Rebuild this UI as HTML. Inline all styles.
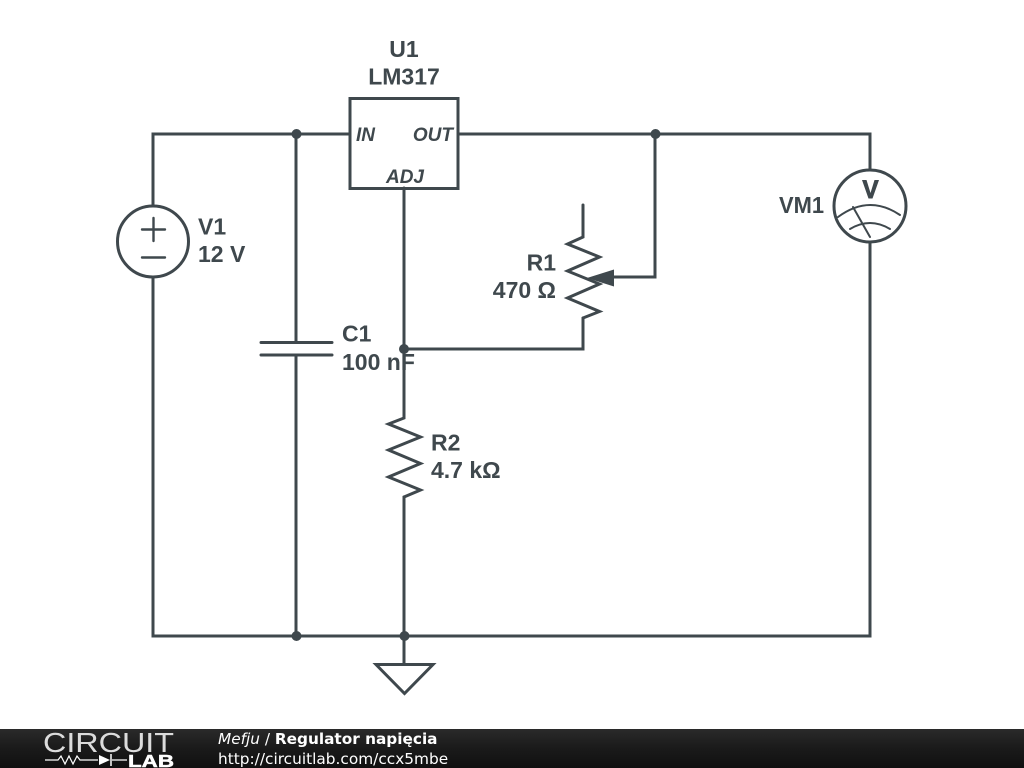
<!DOCTYPE html>
<html>
<head>
<meta charset="utf-8">
<style>
html,body{margin:0;padding:0;background:#fff;width:1024px;height:768px;overflow:hidden}
svg{display:block}
.w{fill:none;stroke:#3f484d;stroke-width:3;stroke-linejoin:miter;stroke-linecap:round}
.t{font-family:"Liberation Sans",Arial,sans-serif;font-weight:bold;font-size:23px;fill:#3f484d}
.p{font-family:"Liberation Sans",Arial,sans-serif;font-weight:bold;font-style:italic;font-size:19px;fill:#3f484d}
.f{font-family:"DejaVu Sans",sans-serif;fill:#fff;font-size:15.300px}
</style>
</head>
<body>
<svg width="1024" height="768" viewBox="0 0 1024 768" xmlns="http://www.w3.org/2000/svg">
<defs>
<linearGradient id="bar" x1="0" y1="0" x2="0" y2="1">
<stop offset="0" stop-color="#2a2a2a"/>
<stop offset="0.500" stop-color="#1a1a1a"/>
<stop offset="1" stop-color="#101010"/>
</linearGradient>
</defs>
<rect width="1024" height="768" fill="#fff"/>
<!-- main wires -->
<path class="w" d="M153 205V134H350M459 134H870V169M870 243V636H153V278"/>
<path class="w" d="M296 134V342M296 355V636"/>
<path class="w" d="M404 188V415M404 497V664"/>
<path class="w" d="M404 349H583V318"/>
<path class="w" d="M655 134V277H612"/>
<!-- U1 -->
<rect class="w" x="350" y="98.500" width="108" height="90"/>
<!-- V1 -->
<circle class="w" cx="153" cy="241.500" r="35.500"/>
<g fill="none" stroke="#3f484d" stroke-width="2.400" stroke-linecap="round">
<path d="M142 229.500H165M153.500 218V241M142 257.500H165"/>
</g>
<!-- C1 -->
<path class="w" d="M261 342.500H332M261 355H332"/>
<!-- R2 -->
<path class="w" d="M404 415V418L388.500 424L420.500 437L388.500 450L420.500 463.500L388.500 477L420.500 490L404 497V500"/>
<!-- R1 -->
<path class="w" d="M583 205V237L567.500 244L599.500 257L567.500 271L599.500 284L567.500 298L599.500 311.500L583 318"/>
<path d="M587 278L614 269.500V286.500Z" fill="#3f484d"/>
<!-- VM1 -->
<circle class="w" cx="870" cy="206" r="36"/>
<g fill="none" stroke="#3f484d" stroke-width="2" stroke-linecap="round">
<path d="M838 217Q869 194 900 215M850 229Q870 217 890 229M853 207L870 237"/>
</g>
<path d="M862 180H866.500L870.500 193L874.500 180H879L872.500 198.500H868.500Z" fill="#3f484d"/>
<!-- ground -->
<path class="w" d="M376 664.500H433L404.500 693.500Z"/>
<!-- junctions -->
<g fill="#3f484d">
<circle cx="296.500" cy="134" r="5"/>
<circle cx="655.500" cy="134" r="5"/>
<circle cx="404" cy="349" r="5"/>
<circle cx="296.500" cy="636" r="5"/>
<circle cx="404.500" cy="636" r="5"/>
</g>
<!-- labels -->
<text class="t" x="404" y="57" text-anchor="middle">U1</text>
<text class="t" x="404" y="84.500" text-anchor="middle">LM317</text>
<text class="p" x="356" y="141">IN</text>
<text class="p" x="453" y="141" text-anchor="end">OUT</text>
<text class="p" x="405" y="183" text-anchor="middle">ADJ</text>
<text class="t" x="198" y="234.500">V1</text>
<text class="t" x="198" y="262">12 V</text>
<text class="t" x="342" y="341.500">C1</text>
<text class="t" x="342" y="370">100 nF</text>
<text class="t" x="431" y="450.500">R2</text>
<text class="t" x="431" y="478">4.7 kΩ</text>
<text class="t" x="556" y="270.500" text-anchor="end">R1</text>
<text class="t" x="556" y="298" text-anchor="end">470 Ω</text>
<text class="t" x="824" y="213" text-anchor="end" textLength="45" lengthAdjust="spacingAndGlyphs">VM1</text>
<!-- footer -->
<rect x="0" y="729" width="1024" height="39" fill="url(#bar)"/>
<text x="43" y="752" font-family="'Liberation Sans',sans-serif" font-size="28" fill="#dcdcdc" textLength="131" lengthAdjust="spacingAndGlyphs">CIRCUIT</text>
<path d="M45 760H58L61 756L65 764L69 756L73 764L77 756L80 760H98M112 760H127" fill="none" stroke="#fff" stroke-width="1.200"/>
<path d="M99 755L110 760L99 765Z" fill="#fff"/>
<path d="M111 754V766" stroke="#fff" stroke-width="1.500"/>
<text x="128" y="767" font-family="'Liberation Sans',sans-serif" font-weight="bold" font-size="17.500" fill="#fff" stroke="#fff" stroke-width="0.500" textLength="46" lengthAdjust="spacingAndGlyphs">LAB</text>
<text class="f" x="218" y="744"><tspan font-style="italic">Mefju</tspan> / <tspan font-weight="bold">Regulator napięcia</tspan></text>
<text class="f" x="218" y="764" style="font-size:15.350px">http://circuitlab.com/ccx5mbe</text>
</svg>
</body>
</html>
